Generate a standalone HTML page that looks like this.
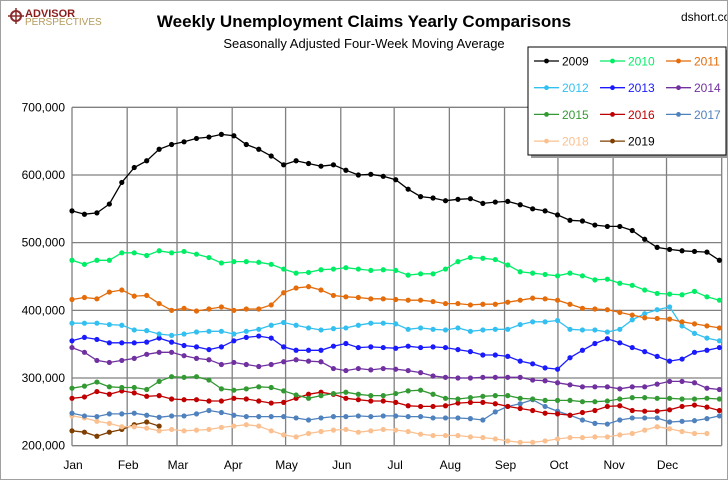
<!DOCTYPE html>
<html><head><meta charset="utf-8"><style>
body{margin:0;background:#fff}
#wrap{position:relative;width:726px;height:478px;border:1px solid #a0a0a0;overflow:hidden;font-family:"Liberation Sans",sans-serif;background:#fff}
</style></head><body>
<div id="wrap">
<svg id="chart" width="726" height="478" xmlns="http://www.w3.org/2000/svg">
<g>
<circle cx="15" cy="15" r="5" fill="none" stroke="#8b2a2a" stroke-width="2"/>
<path d="M15 7 V23 M7 15 H23" stroke="#8b2a2a" stroke-width="1.5"/>
<text x="24" y="16" font-size="11" font-weight="bold" fill="#8b1c1c">ADVISOR</text>
<text x="24" y="24" font-size="10" fill="#b49a5a">PERSPECTIVES</text>
</g>
<text x="363" y="26" text-anchor="middle" font-size="17" font-weight="bold" fill="#000">Weekly Unemployment Claims Yearly Comparisons</text>
<text x="363" y="47" text-anchor="middle" font-size="13" fill="#000">Seasonally Adjusted Four-Week Moving Average</text>
<text x="680" y="20" font-size="12" fill="#000">dshort.com</text>
<g id="grid"></g>
<g id="series"></g>
<g id="legend"></g>
</svg>
</div>
<script>
const yTicks=[200000,300000,400000,500000,600000,700000];
const months=["Jan","Feb","Mar","Apr","May","Jun","Jul","Aug","Sep","Oct","Nov","Dec"];
const monthDays=[0,31,59,90,120,151,181,212,243,273,304,334,365];
const years=["2009","2010","2011","2012","2013","2014","2015","2016","2017","2018","2019"];
const colors=["#000000","#00ee66","#e46c0a","#33c0f0","#1a1aff","#7030a0","#339933","#c00000","#4f81bd","#fac090","#7f3f00"];
const s2009=[547,542,544,557,589,611,621,638,645,649,654,656,660,658,645,638,628,615,621,617,613,615,607,600,601,598,593,579,568,566,562,564,565,558,560,561,556,550,547,541,533,532,526,524,524,518,505,493,490,488,487,486,474];
const s2010=[474,468,474,474,485,485,481,488,485,487,483,478,470,472,472,471,468,461,455,456,460,461,463,461,459,460,459,452,454,454,461,472,478,477,475,467,457,455,453,451,455,451,445,446,440,437,430,425,424,423,428,420,415];
const s2011=[416,419,417,427,430,421,422,410,400,403,399,402,405,400,402,402,408,426,433,435,430,422,420,419,417,417,416,415,415,413,410,410,408,409,409,412,415,418,417,415,409,403,402,401,397,393,389,388,387,383,380,377,374];
const s2012=[381,381,381,379,378,371,370,365,363,365,368,369,369,365,369,372,378,382,378,374,371,373,374,378,381,381,380,372,374,372,371,374,369,371,372,372,379,383,383,385,372,371,371,368,372,386,395,401,405,377,366,359,355];
const s2013=[355,360,357,352,352,352,353,359,353,348,346,342,346,355,360,362,359,346,341,341,341,347,351,345,346,345,344,347,345,346,345,342,339,334,334,332,325,321,315,313,330,341,351,358,352,345,339,332,325,328,338,341,345];
const s2014=[345,338,326,323,326,329,335,338,338,333,329,327,320,323,320,317,320,324,327,325,324,314,311,314,312,314,313,311,308,303,301,300,300,301,301,301,301,297,296,293,290,287,287,287,284,287,287,291,295,295,293,285,283];
const s2015=[285,288,294,287,286,286,283,295,302,301,302,297,284,282,284,287,286,281,275,270,274,277,279,276,274,274,277,281,282,276,270,269,271,273,274,274,270,269,267,267,267,265,265,266,269,271,271,270,270,269,269,270,269];
const s2016=[270,272,280,276,281,278,273,274,269,268,268,266,266,270,269,266,263,264,270,276,279,276,270,268,266,266,264,259,258,258,259,263,264,264,262,258,255,252,248,247,245,249,252,258,259,252,251,251,253,258,260,257,252];
const s2017=[248,244,243,247,247,248,245,242,244,244,247,252,249,245,243,243,243,243,241,238,241,243,243,244,243,244,244,243,243,241,241,241,240,238,250,258,262,268,258,251,245,238,233,232,238,241,241,241,235,236,237,240,244];
const s2018=[244,241,236,233,228,228,226,222,224,222,223,224,227,229,231,229,222,216,213,218,221,223,224,220,222,224,223,221,217,215,215,215,213,212,210,207,205,205,207,210,212,212,213,213,216,218,223,228,225,221,218,218];
const s2019=[222,220,214,220,224,231,235,229];
const allSeries=[s2009,s2010,s2011,s2012,s2013,s2014,s2015,s2016,s2017,s2018,s2019];

const NS="http://www.w3.org/2000/svg";
const X0=71,X1=720.7,Y0=444.7,Y1=106.3;
function xDay(d){return X0+(d/365)*(X1-X0);}
function xWeek(i){return X0+i*12.45;}
function yVal(v){return Y0-(v-200000)/(500000)*(Y0-Y1);}
function mk(tag,attrs,parent){const e=document.createElementNS(NS,tag);for(const k in attrs)e.setAttribute(k,attrs[k]);parent.appendChild(e);return e;}
const grid=document.getElementById('grid');
yTicks.forEach(t=>{
  const l=mk('line',{x1:X0,x2:X1,y1:yVal(t),y2:yVal(t),stroke:'#808080','stroke-width':1.3},grid);
  
  
  const tx=mk('text',{x:64,y:yVal(t)+4,'text-anchor':'end','font-size':12,fill:'#000'},grid);
  tx.textContent=t.toLocaleString('en-US');
  
  
});
monthDays.forEach((d,i)=>{
  const l=mk('line',{x1:xDay(d),x2:xDay(d),y1:Y1,y2:Y0,stroke:'#808080','stroke-width':1.3},grid);
  
  
  if(i<12){
    const tx=mk('text',{x:xDay(d)+1,y:468,'text-anchor':'middle','font-size':12,fill:'#000'},grid);
    tx.textContent=months[i];
    
    
  }
});
const sg=document.getElementById('series');
for(let s=allSeries.length-1;s>=0;s--){
  const data=allSeries[s];
  const g=mk('g',{},sg);
  
  
  const pts=data.map((v,i)=>xWeek(i).toFixed(1)+','+yVal(v*1000).toFixed(1)).join(' ');
  const pl=mk('polyline',{points:pts,fill:'none',stroke:colors[s],'stroke-width':1.3},g);
  
  
  data.forEach((v,i)=>{
    const c=mk('circle',{cx:xWeek(i),cy:yVal(v*1000),r:2.6,fill:colors[s]},g);
    
    
  });
}
const lg=document.getElementById('legend');
mk('rect',{x:530,y:49,width:198,height:108,fill:'#999'},lg);
const box=mk('rect',{x:527,y:46,width:198,height:108,fill:'#fff',stroke:'#000','stroke-width':1},lg);


years.forEach((y,i)=>{
  const col=i%3,row=Math.floor(i/3);
  const lx=533+col*66,ly=60+row*26.7;
  const g=mk('g',{},lg);
  
  
  mk('line',{x1:lx,x2:lx+25,y1:ly,y2:ly,stroke:colors[i],'stroke-width':1.3},g);
  mk('circle',{cx:lx+12.5,cy:ly,r:2.4,fill:colors[i]},g);
  const t=mk('text',{x:lx+28,y:ly+4.5,'font-size':12,fill:(y==='2019'?'#000':colors[i])},g);
  t.textContent=y;
});
</script>
</body></html>
